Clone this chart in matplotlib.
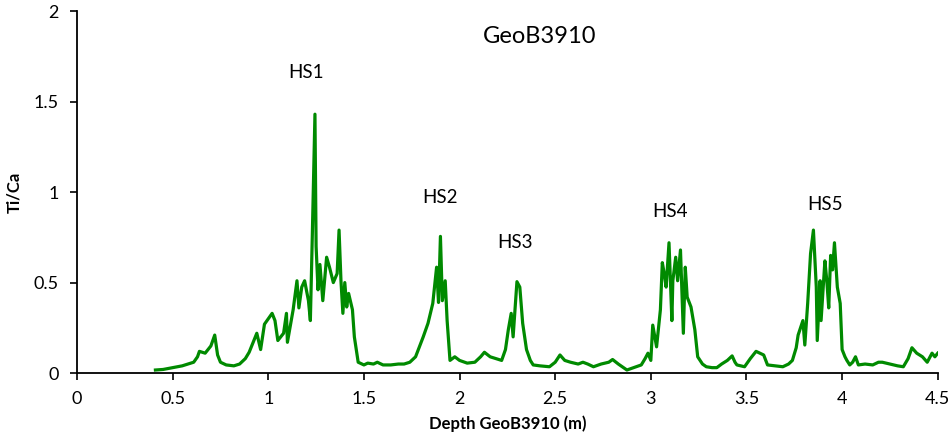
import matplotlib
matplotlib.use("Agg")
import matplotlib.pyplot as plt

# depth (m) and Ti/Ca
depth = [0.41, 0.45, 0.50, 0.55, 0.58, 0.61, 0.63, 0.64, 0.67, 0.70, 0.72, 0.735, 0.75,
         0.78, 0.82, 0.85, 0.88, 0.90, 0.94, 0.96, 0.98,
         1.02, 1.035, 1.05, 1.08, 1.095, 1.10, 1.13, 1.15, 1.16, 1.175, 1.19, 1.21, 1.22,
         1.23, 1.244, 1.25, 1.26, 1.27, 1.285, 1.305, 1.32, 1.34, 1.36, 1.37, 1.38, 1.39,
         1.40, 1.41, 1.42, 1.44, 1.45, 1.47, 1.50, 1.52, 1.55, 1.57, 1.60, 1.64, 1.68,
         1.71, 1.74, 1.77, 1.79, 1.81, 1.835, 1.86,
         1.88, 1.89, 1.90, 1.91, 1.925, 1.935, 1.95, 1.975, 2.00, 2.04, 2.08, 2.11, 2.13,
         2.16, 2.19, 2.22, 2.24, 2.255,
         2.27, 2.28, 2.30, 2.315, 2.33, 2.35, 2.37, 2.385, 2.42, 2.47, 2.50, 2.525, 2.55,
         2.58, 2.62, 2.645, 2.67, 2.70, 2.74, 2.78, 2.80, 2.83,
         2.875, 2.91, 2.95, 2.97, 2.985, 3.00, 3.01, 3.03, 3.05, 3.06, 3.07, 3.08, 3.095,
         3.11, 3.115, 3.13, 3.14, 3.155, 3.17, 3.18, 3.19, 3.21, 3.23, 3.245, 3.27, 3.29,
         3.32, 3.345, 3.37, 3.40, 3.425, 3.44,
         3.45, 3.49, 3.52, 3.55, 3.57, 3.59, 3.61, 3.65, 3.69, 3.72, 3.74, 3.76, 3.77,
         3.795, 3.805, 3.82, 3.835, 3.85,
         3.865, 3.87, 3.885, 3.89, 3.91, 3.92, 3.93, 3.94, 3.95, 3.96, 3.975, 3.99, 4.00,
         4.015, 4.025, 4.04, 4.055, 4.07, 4.085, 4.12, 4.16, 4.19, 4.21, 4.25, 4.29, 4.32,
         4.345, 4.365, 4.39, 4.42, 4.445, 4.47, 4.485, 4.50]
ti_ca = [0.017, 0.02, 0.03, 0.04, 0.05, 0.06, 0.09, 0.12, 0.11, 0.15, 0.21, 0.10, 0.06,
         0.045, 0.04, 0.05, 0.08, 0.115, 0.22, 0.13, 0.27,
         0.33, 0.29, 0.18, 0.22, 0.33, 0.17, 0.35, 0.51, 0.36, 0.475, 0.51, 0.40, 0.29,
         0.75, 1.43, 0.70, 0.46, 0.60, 0.40, 0.64, 0.585, 0.50, 0.55, 0.79, 0.51, 0.33,
         0.50, 0.365, 0.44, 0.35, 0.20, 0.06, 0.045, 0.055, 0.05, 0.06, 0.045, 0.045, 0.05,
         0.05, 0.06, 0.09, 0.145, 0.20, 0.275, 0.385,
         0.585, 0.39, 0.755, 0.40, 0.51, 0.29, 0.07, 0.09, 0.07, 0.055, 0.06, 0.09, 0.115,
         0.09, 0.08, 0.07, 0.13, 0.24,
         0.33, 0.20, 0.505, 0.475, 0.275, 0.13, 0.07, 0.045, 0.04, 0.035, 0.06, 0.10, 0.07,
         0.06, 0.05, 0.06, 0.05, 0.035, 0.05, 0.06, 0.075, 0.05,
         0.017, 0.03, 0.045, 0.08, 0.11, 0.07, 0.265, 0.145, 0.35, 0.61, 0.55, 0.475, 0.72,
         0.29, 0.51, 0.64, 0.51, 0.68, 0.22, 0.585, 0.42, 0.365, 0.24, 0.09, 0.05, 0.035,
         0.03, 0.03, 0.05, 0.07, 0.095, 0.06,
         0.045, 0.035, 0.08, 0.12, 0.11, 0.10, 0.045, 0.04, 0.035, 0.05, 0.07, 0.14, 0.21,
         0.29, 0.155, 0.385, 0.66, 0.79,
         0.475, 0.18, 0.51, 0.29, 0.62, 0.51, 0.36, 0.65, 0.57, 0.72, 0.475, 0.385, 0.13,
         0.09, 0.07, 0.045, 0.06, 0.09, 0.045, 0.05, 0.045, 0.06, 0.06, 0.05, 0.04, 0.035,
         0.08, 0.14, 0.11, 0.09, 0.06, 0.11, 0.09, 0.11]

event_labels = ["HS1", "HS2", "HS3", "HS4", "HS5"]
event_x = [1.20, 1.90, 2.29, 3.10, 3.91]
event_y = [1.66, 0.97, 0.72, 0.895, 0.93]

x_ticks = [0, 0.5, 1, 1.5, 2, 2.5, 3, 3.5, 4, 4.5]
y_ticks = [0, 0.5, 1, 1.5, 2]

plt.rcParams['font.family'] = ['Lato', 'DejaVu Sans']

fig = plt.figure(figsize=(9.53, 4.41), dpi=100)
ax = fig.add_axes([0.0808, 0.154, 0.9032, 0.821])

ax.plot(depth, ti_ca, color='#008a00', linewidth=2.3)

for lab, xx, yy in zip(event_labels, event_x, event_y):
    ax.text(xx, yy, lab, fontsize=13.5, ha='center', va='center', color='black')
ax.text(2.42, 1.86, "GeoB3910", fontsize=17, ha='center', va='center')

ax.set_xlim(0, 4.5)
ax.set_ylim(0, 2)
ax.set_xticks(x_ticks)
ax.set_xticklabels([f"{t:g}" for t in x_ticks])
ax.set_yticks(y_ticks)
ax.set_yticklabels([f"{t:g}" for t in y_ticks])
ax.tick_params(direction='out', length=5, width=1.2, labelsize=13, pad=8)
for side in ['top', 'right']:
    ax.spines[side].set_visible(False)
for side in ['left', 'bottom']:
    ax.spines[side].set_linewidth(1.3)

ax.set_xlabel("Depth GeoB3910 (m)", fontsize=12, fontweight='bold', labelpad=6)
ax.set_ylabel("Ti/Ca", fontsize=12, fontweight='bold', labelpad=8)

fig.savefig("out.png", dpi=100)
